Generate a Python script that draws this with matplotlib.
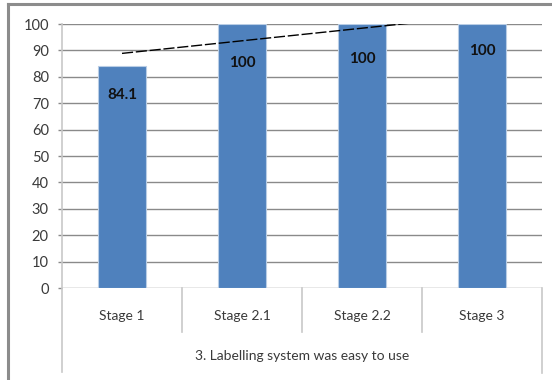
import numpy as np
import matplotlib
matplotlib.use("Agg")
import matplotlib.pyplot as plt
from matplotlib.lines import Line2D

# Survey results: "Labelling system was easy to use" (% agreeing)
stages = ["Stage 1", "Stage 2.1", "Stage 2.2", "Stage 3"]
values = [84.1, 100, 100, 100]
value_labels = ["84.1", "100", "100", "100"]
group_title = "3. Labelling system was easy to use"
y_ticks = [0, 10, 20, 30, 40, 50, 60, 70, 80, 90, 100]

plt.rcParams["font.family"] = ["Lato", "DejaVu Sans"]

W, H = 552, 380
fig = plt.figure(figsize=(W / 100, H / 100), dpi=100)
fig.patch.set_facecolor("white")

# Chart-area frame (left and top edges)
frame_col = "#8c8c8c"
fig.add_artist(Line2D([8 / W, 8 / W], [0, 1 - 4 / H], color=frame_col, lw=2.2,
                      transform=fig.transFigure))
fig.add_artist(Line2D([8 / W, 1], [1 - 4 / H, 1 - 4 / H], color=frame_col, lw=2.2,
                      transform=fig.transFigure))

left, right, top, bottom = 62, 542, 24, 288
ax = fig.add_axes([left / W, 1 - bottom / H, (right - left) / W, (bottom - top) / H])

x = np.arange(1, len(stages) + 1)
grid_col = "#8a8a8a"

ax.set_xlim(0.5, len(stages) + 0.5)
ax.set_ylim(0, 100)
ax.set_yticks(y_ticks)
ax.set_yticklabels([str(t) for t in y_ticks])
ax.yaxis.grid(True, color=grid_col, lw=1.0)
ax.set_axisbelow(True)
ax.tick_params(axis="y", length=3, width=1.0, color=grid_col, pad=6.5,
               labelsize=10.5, labelcolor="#3a3a3a")
ax.set_xticks([])
for s in ax.spines.values():
    s.set_visible(False)

bars = ax.bar(x, values, width=0.4, color="#4f81bd", edgecolor="#b9cde5",
              linewidth=0.8, zorder=2)

# Value labels inside the bars
label_offsets = [21, 28, 25.5, 19.5]
for xi, v, txt, off in zip(x, values, value_labels, label_offsets):
    ax.annotate(txt, (xi, v), xytext=(0, -off), textcoords="offset points",
                ha="center", va="center", fontsize=11, fontweight="bold",
                color="#111111", zorder=4)

# Linear trend line
coef = np.polyfit(x, values, 1)
xt = np.array([x[0], x[-1]], dtype=float)
ax.plot(xt, np.polyval(coef, xt), color="black", lw=1.0,
        linestyle=(0, (8, 2)), zorder=3)

# Category axis: vertical axis line, separators and labels
axis_col = "#c8c8c8"
ax.plot([0.5, 0.5], [1.0, -0.318], color=axis_col, lw=1.2,
        transform=ax.get_xaxis_transform(), clip_on=False)
for xs in [1.5, 2.5, 3.5]:
    ax.plot([xs, xs], [0, -0.167], color=axis_col, lw=1.2,
            transform=ax.get_xaxis_transform(), clip_on=False)
ax.plot([4.5, 4.5], [0, -0.322], color=axis_col, lw=1.2,
        transform=ax.get_xaxis_transform(), clip_on=False)

for xi, name in zip(x, stages):
    ax.text(xi, -0.106, name, transform=ax.get_xaxis_transform(),
            ha="center", va="center", fontsize=10, color="#3a3a3a")
ax.text(2.5, -0.258, group_title, transform=ax.get_xaxis_transform(),
        ha="center", va="center", fontsize=10, color="#3a3a3a")

fig.savefig("out.png", dpi=100, facecolor="white")
